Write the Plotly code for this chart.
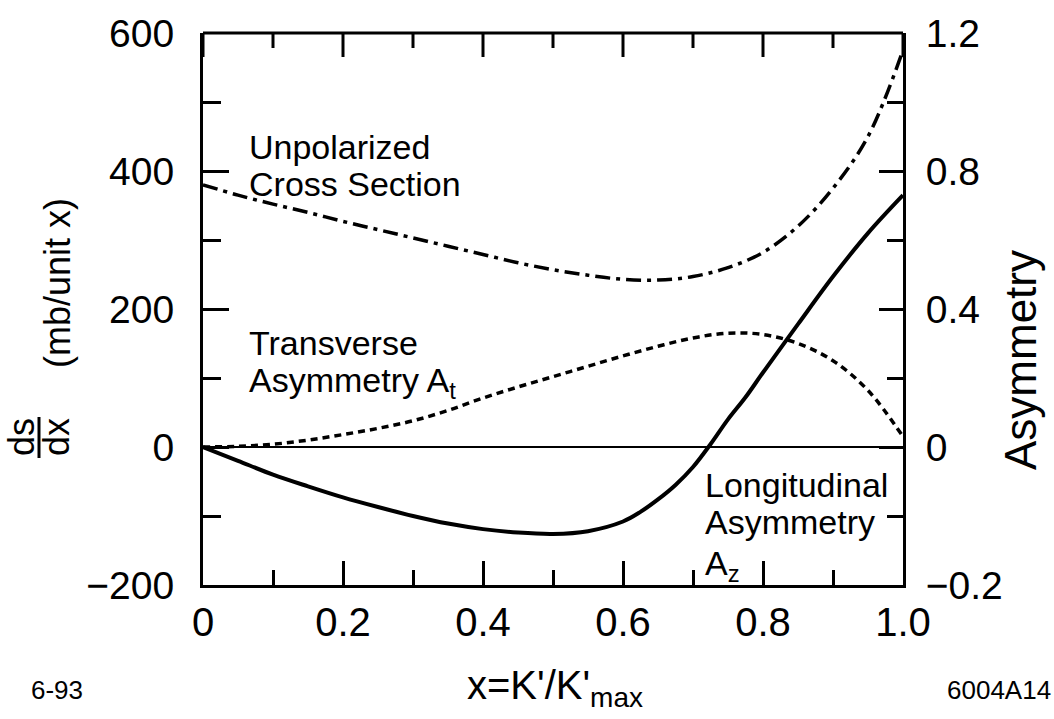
import plotly.graph_objects as go

# x = K'/K'max sample points
x_vals = [0.0, 0.05, 0.1, 0.15, 0.2, 0.25, 0.3, 0.35, 0.4, 0.45, 0.5,
          0.55, 0.6, 0.65, 0.7, 0.75, 0.8, 0.85, 0.9, 0.95, 1.0]

# Unpolarized cross section ds/dx (mb / unit x), left axis
unpolarized = [380, 365, 352, 340, 327, 315, 303, 291, 279, 267, 257,
               249, 243, 242, 247, 260, 282, 320, 375, 450, 575]

# Transverse asymmetry A_t, right axis
transverse_at = [0.0, 0.002, 0.008, 0.02, 0.036, 0.054, 0.076, 0.106, 0.142,
                 0.174, 0.204, 0.234, 0.264, 0.292, 0.316, 0.33, 0.326,
                 0.30, 0.25, 0.164, 0.03]

# Longitudinal asymmetry A_z, right axis (denser where it turns up)
x_az = [0.0, 0.05, 0.1, 0.15, 0.2, 0.25, 0.3, 0.35, 0.4, 0.45, 0.5, 0.55,
        0.6, 0.625, 0.65, 0.675, 0.7, 0.725, 0.75, 0.775, 0.8, 0.85, 0.9,
        0.95, 1.0]
longitudinal_az = [0.0, -0.04, -0.08, -0.114, -0.146, -0.174, -0.2, -0.222,
                   -0.238, -0.248, -0.252, -0.244, -0.216, -0.188, -0.152,
                   -0.11, -0.058, 0.008, 0.08, 0.144, 0.216, 0.356, 0.494,
                   0.62, 0.73]

x_ticks = [0, 0.2, 0.4, 0.6, 0.8, 1.0]
x_ticklabels = ["0", "0.2", "0.4", "0.6", "0.8", "1.0"]
x_minor_ticks = [0.1, 0.3, 0.5, 0.7, 0.9]
left_ticks = [-200, 0, 200, 400, 600]
left_ticklabels = ["\u2212200", "0", "200", "400", "600"]
right_ticks = [-0.4, 0.0, 0.4, 0.8, 1.2]
right_ticklabels = ["\u22120.2", "0", "0.4", "0.8", "1.2"]

FONT = "Liberation Sans, Arial, Helvetica, sans-serif"
BLACK = "black"

fig = go.Figure()

fig.add_trace(go.Scatter(
    x=x_vals, y=unpolarized, mode="lines", line_shape="spline",
    line=dict(color=BLACK, width=3.5, dash="15px,6px,4px,6px"),
    showlegend=False, hoverinfo="skip"))

fig.add_trace(go.Scatter(
    x=x_vals, y=transverse_at, mode="lines", line_shape="spline", yaxis="y2",
    line=dict(color=BLACK, width=3.5, dash="7px,5px"),
    showlegend=False, hoverinfo="skip"))

fig.add_trace(go.Scatter(
    x=x_az, y=longitudinal_az, mode="lines", line_shape="spline", yaxis="y2",
    line=dict(color=BLACK, width=4),
    showlegend=False, hoverinfo="skip"))

# plot-area geometry in pixels
L, R, T, B = 203, 903, 33, 585
W, H = 1054, 719
MAJOR_LEN, MINOR_LEN = 24, 15


def px(xp):
    return (xp - L) / (R - L)


def py(yp):
    return (B - yp) / (B - T)


annotations = []


def label(text, xp, yp, size, xanchor="left", angle=0):
    annotations.append(dict(
        text=text, x=px(xp), y=py(yp), xref="paper", yref="paper",
        xanchor=xanchor, yanchor="middle", showarrow=False,
        textangle=angle, font=dict(family=FONT, size=size, color=BLACK)))


# curve labels
label("Unpolarized", 247, 147, 34)
label("Cross Section", 247, 184, 34)
label("Transverse", 247, 343, 34)
label("Asymmetry A<sub>t</sub>", 247, 382, 34)
label("Longitudinal", 703, 485, 34)
label("Asymmetry", 703, 522, 34)
label("A<sub>z</sub>", 703, 565, 34)

# axis titles
label("x=K'/K'<sub>max</sub>", 555, 688, 40, xanchor="center")
label("Asymmetry", 1020, 360, 44, xanchor="center", angle=-90)
label("ds", 22, 437, 36, xanchor="center", angle=-90)
label("dx", 57, 437, 36, xanchor="center", angle=-90)
label("(mb/unit x)", 57, 283, 36, xanchor="center", angle=-90)

# figure stamps
label("6-93", 57, 690, 26, xanchor="center")
label("6004A14", 999, 690, 26, xanchor="center")

line_style = dict(color=BLACK, width=3)

# fraction bar of ds/dx
shapes = [dict(type="line", xref="paper", yref="paper",
               x0=px(39), x1=px(39), y0=py(417), y1=py(458), line=line_style)]

# top frame edge with inward ticks at the same x positions as the bottom axis
shapes.append(dict(type="line", xref="paper", yref="paper",
                   x0=0, x1=1, y0=1, y1=1, line=line_style))
for v in x_ticks:
    shapes.append(dict(type="line", xref="x", yref="paper", x0=v, x1=v,
                       y0=1, y1=1 - MAJOR_LEN / (B - T), line=line_style))
for v in x_minor_ticks:
    shapes.append(dict(type="line", xref="x", yref="paper", x0=v, x1=v,
                       y0=1, y1=1 - MINOR_LEN / (B - T), line=line_style))

tick_font = dict(family=FONT, size=40, color=BLACK)

fig.update_layout(
    width=W, height=H,
    margin=dict(l=L, r=W - R, t=T, b=H - B, pad=0),
    paper_bgcolor="white", plot_bgcolor="white",
    font=dict(family=FONT, color=BLACK),
    annotations=annotations, shapes=shapes,
    xaxis=dict(
        range=[0, 1.0], showgrid=False, zeroline=False,
        showline=True, linecolor=BLACK, linewidth=3,
        ticks="inside", ticklen=MAJOR_LEN, tickwidth=3, tickcolor=BLACK,
        tickmode="array", tickvals=x_ticks, ticktext=x_ticklabels,
        tickfont=tick_font,
        minor=dict(ticks="inside", tickmode="array", tickvals=x_minor_ticks,
                   ticklen=MINOR_LEN, tickwidth=3, tickcolor=BLACK,
                   showgrid=False),
    ),
    yaxis=dict(
        range=[-200, 600], showgrid=False,
        zeroline=True, zerolinecolor=BLACK, zerolinewidth=2,
        showline=True, linecolor=BLACK, linewidth=3,
        ticks="inside", ticklen=26, tickwidth=3, tickcolor=BLACK,
        tickvals=left_ticks, ticktext=left_ticklabels,
        tickfont=dict(family=FONT, size=39, color=BLACK),
        ticklabelstandoff=18,
        minor=dict(ticks="inside", dtick=100, tick0=0, ticklen=18,
                   tickwidth=3, tickcolor=BLACK, showgrid=False),
    ),
    yaxis2=dict(
        range=[-0.4, 1.2], overlaying="y", side="right", showgrid=False,
        zeroline=False, showline=True, linecolor=BLACK, linewidth=3,
        ticks="inside", ticklen=24, tickwidth=3, tickcolor=BLACK,
        tickvals=right_ticks, ticktext=right_ticklabels,
        tickfont=dict(family=FONT, size=39, color=BLACK),
        ticklabelstandoff=12,
        minor=dict(ticks="inside", dtick=0.2, tick0=0, ticklen=16,
                   tickwidth=3, tickcolor=BLACK, showgrid=False),
    ),
)

fig.write_html("out.html")
